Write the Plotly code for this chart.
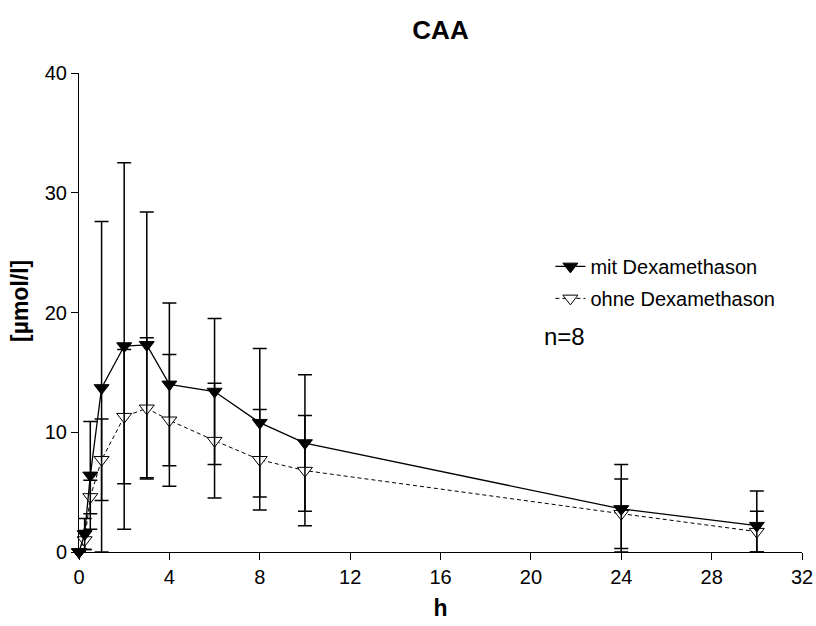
import plotly.graph_objects as go

t = [0, 0.25, 0.5, 1, 2, 3, 4, 6, 8, 10, 24, 30]
mit = [0, 1.5, 6.4, 13.7, 17.2, 17.3, 14.0, 13.4, 10.8, 9.1, 3.6, 2.2]
mit_sd = [0, 1.3, 4.5, 13.9, 15.3, 11.1, 6.8, 6.1, 6.2, 5.7, 3.7, 2.9]
ohne = [0, 1.0, 4.6, 7.7, 11.3, 12.0, 11.0, 9.3, 7.7, 6.8, 3.2, 1.7]
ohne_sd = [0, 0.8, 1.4, 3.4, 5.6, 5.9, 5.5, 4.8, 4.2, 4.6, 2.9, 1.7]
x_ticks = [0, 4, 8, 12, 16, 20, 24, 28, 32]
y_ticks = [0, 10, 20, 30, 40]

FONT = "Liberation Sans, Arial, sans-serif"

def minus(vals, sds):
    return [min(s, v) for v, s in zip(vals, sds)]

fig = go.Figure()
fig.add_trace(go.Scatter(
    x=t, y=ohne, name="ohne Dexamethason", mode="lines+markers",
    legendgroup="b", legendrank=2,
    line=dict(color="black", width=1, dash="4px,3px"),
    marker=dict(symbol="triangle-down", size=13, color="white",
                line=dict(color="black", width=1)),
    error_y=dict(type="data", symmetric=False, array=ohne_sd,
                 arrayminus=minus(ohne, ohne_sd),
                 color="black", thickness=1.5, width=7),
    cliponaxis=False,
))
fig.add_trace(go.Scatter(
    x=t, y=mit, name="mit Dexamethason", mode="lines+markers",
    legendgroup="a", legendrank=1,
    line=dict(color="black", width=1.3),
    marker=dict(symbol="triangle-down", size=13, color="black",
                line=dict(color="black", width=1)),
    error_y=dict(type="data", symmetric=False, array=mit_sd,
                 arrayminus=minus(mit, mit_sd),
                 color="black", thickness=1.5, width=7),
    cliponaxis=False,
))

fig.update_layout(
    width=816, height=626,
    margin=dict(l=79, r=14, t=73, b=74, autoexpand=False),
    paper_bgcolor="white", plot_bgcolor="white",
    font=dict(family=FONT, size=20, color="black"),
    title=dict(text="<b>CAA</b>", x=0.5, xanchor="center", y=0.952, yanchor="middle",
               xref="paper", font=dict(size=26, family=FONT)),
    showlegend=True,
    legend=dict(x=0.652, y=0.637, xanchor="left", yanchor="top",
                traceorder="grouped", bgcolor="rgba(0,0,0,0)",
                font=dict(size=20, family=FONT), tracegroupgap=3, itemwidth=30),
    annotations=[
        dict(text="n=8", x=0.641, y=0.45, xref="paper", yref="paper",
             xanchor="left", yanchor="middle", showarrow=False,
             font=dict(size=24, family=FONT)),
        dict(text="<b>[µmol/l]</b>", x=0, y=0.524, xref="paper", yref="paper",
             xanchor="center", yanchor="middle", xshift=-59, textangle=-90,
             showarrow=False, font=dict(size=23, family=FONT)),
    ],
)
fig.update_xaxes(
    range=[0, 32], tickvals=x_ticks, showline=True, linecolor="black", linewidth=1,
    ticks="outside", ticklen=7, tickcolor="black", showgrid=False, zeroline=False,
    automargin=False,
    title=dict(text="<b>h</b>", font=dict(size=23, family=FONT), standoff=12),
    tickfont=dict(size=20),
)
fig.update_yaxes(
    range=[0, 40], tickvals=y_ticks, showline=True, linecolor="black", linewidth=1,
    ticks="outside", ticklen=7, tickcolor="black", showgrid=False, zeroline=False,
    automargin=False,
    tickfont=dict(size=20),
)

fig.write_html("out.html")
